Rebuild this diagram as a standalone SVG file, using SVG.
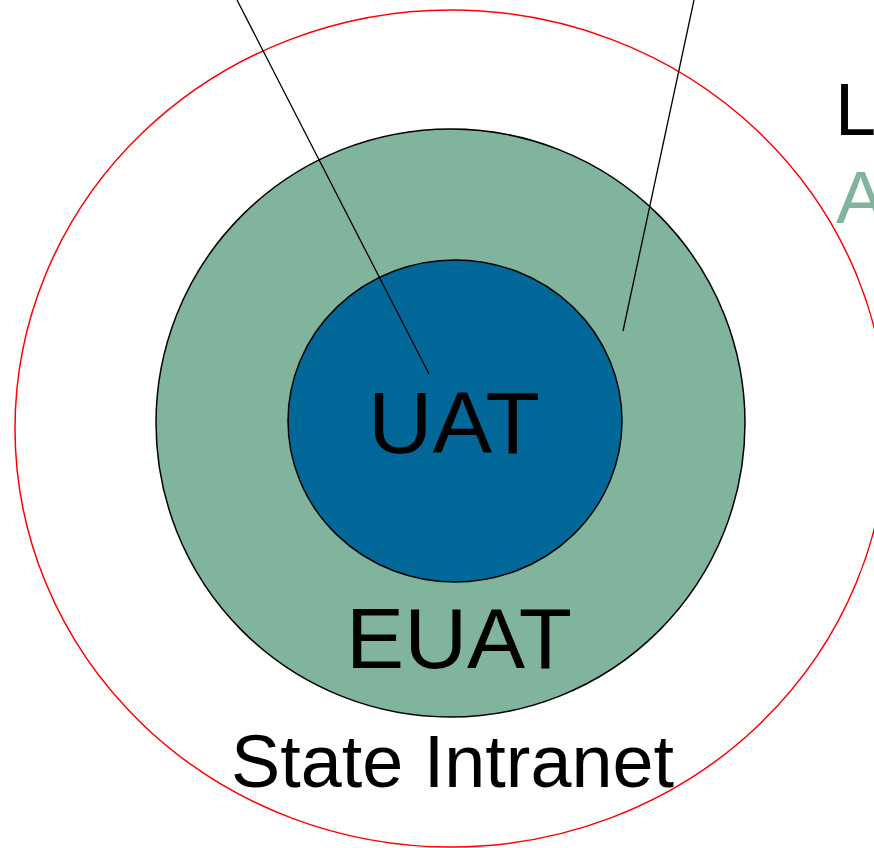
<svg xmlns="http://www.w3.org/2000/svg" width="874" height="848" viewBox="0 0 874 848">
<style>
text{font-family:"Liberation Sans",Arial,sans-serif;fill:#000}
.ring{stroke:#000;stroke-width:1.5}
.conn{stroke:#000;stroke-width:1.3;fill:none}
</style>
<rect width="874" height="848" fill="#fff"/>
<g id="state-intranet">
<ellipse cx="451" cy="428.5" rx="436" ry="418.5" fill="none" stroke="#ff0000" stroke-width="1.5"/>
<text x="231" y="787" font-size="75" textLength="443" lengthAdjust="spacingAndGlyphs">State Intranet</text>
</g>
<g id="euat">
<ellipse class="ring" cx="450.5" cy="423" rx="294.5" ry="294" fill="#80b49c"/>
<text x="346" y="668" font-size="85" textLength="226" lengthAdjust="spacingAndGlyphs">EUAT</text>
</g>
<g id="uat">
<ellipse class="ring" cx="455" cy="421" rx="167" ry="161" fill="#026799"/>
<text x="368" y="453" font-size="87" textLength="172" lengthAdjust="spacingAndGlyphs">UAT</text>
</g>
<g id="legend">
<text x="835" y="135" font-size="74">L</text>
<text x="836" y="223" font-size="74" style="fill:#80b49c">A</text>
</g>
<g id="connectors">
<line class="conn" x1="237" y1="0" x2="429" y2="374"/>
<line class="conn" x1="694" y1="0" x2="623" y2="331"/>
</g>
</svg>
